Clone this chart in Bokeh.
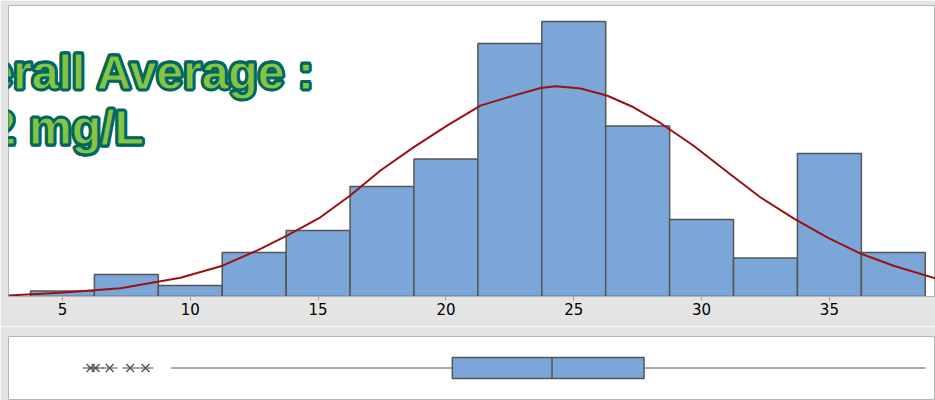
from bokeh.plotting import figure
from bokeh.models import Range1d, FixedTicker, Label
from bokeh.layouts import column
from bokeh.embed import file_html
from bokeh.resources import INLINE

# ---- data ----
bin_left = [3.75, 6.25, 8.75, 11.25, 13.75, 16.25, 18.75, 21.25, 23.75, 26.25, 28.75, 31.25, 33.75, 36.25]
bin_right = [6.25, 8.75, 11.25, 13.75, 16.25, 18.75, 21.25, 23.75, 26.25, 28.75, 31.25, 33.75, 36.25, 38.75]
counts = [1, 4, 2, 8, 12, 20, 25, 46, 50, 31, 14, 7, 26, 8]

curve_x = [2.89, 4.92, 7.27, 9.62, 11.26, 12.63, 13.80, 15.09, 16.27, 17.44, 18.73, 20.06,
           21.35, 22.41, 23.70, 24.29, 25.27, 26.32, 27.34, 28.40, 29.69, 31.02, 32.31,
           33.60, 34.93, 36.22, 37.51, 39.15]
curve_y = [0.2, 0.7, 1.5, 3.4, 5.6, 8.4, 11.1, 14.4, 18.4, 22.9, 27.1, 31.1,
           34.7, 36.2, 37.9, 38.2, 37.8, 36.5, 34.4, 31.5, 27.4, 22.6, 18.0,
           14.2, 10.7, 7.8, 5.6, 3.3]

tick_values = [5, 10, 15, 20, 25, 30, 35]

q1 = 20.25
median = 24.15
q3 = 27.75
whisker_low = 9.25
whisker_high = 38.75
outliers = [6.1, 6.3, 6.85, 7.65, 8.25]

annotation_text = "Overall Average :\n24.2 mg/L"

# ---- styling ----
BG = "#e4e4e4"
BAR = "#7ba7d8"
EDGE = "#555555"
FRAME = "#b4b4b4"
TEAL = "#00665f"
GREEN = "#86c544"

x_range = Range1d(2.89, 39.15)

p = figure(width=935, height=326, x_range=x_range, y_range=Range1d(0, 52.9),
           output_backend="svg", toolbar_location=None,
           min_border_left=8, min_border_right=0, min_border_top=5, min_border_bottom=30)
p.background_fill_color = "white"
p.border_fill_color = BG
p.outline_line_color = FRAME
p.outline_line_width = 1
p.grid.visible = False
p.yaxis.visible = False

p.quad(left=bin_left, right=bin_right, bottom=0, top=counts,
       fill_color=BAR, line_color=EDGE, line_width=1.5)
p.line(curve_x, curve_y, line_color="#9b1010", line_width=2)

ax = p.xaxis[0]
ax.ticker = FixedTicker(ticks=tick_values)
ax.axis_line_color = FRAME
ax.major_tick_line_color = "#a0a0a0"
ax.major_tick_out = 4
ax.major_tick_in = 0
ax.minor_tick_line_color = None
ax.major_label_standoff = 2
ax.major_label_text_font = "DejaVu Sans"
ax.major_label_text_font_size = "15px"
ax.major_label_text_color = "black"

label_kw = dict(x=-0.48, y=45.6, text=annotation_text,
                text_font="Liberation Sans", text_font_style="bold",
                text_font_size="48px", text_baseline="top",
                text_align="left", text_line_height=1.05)
# thick teal halo behind the text
for dx, dy in [(-2, 0), (2, 0), (0, -2), (0, 2), (-1.4, -1.4), (1.4, -1.4), (-1.4, 1.4), (1.4, 1.4)]:
    p.add_layout(Label(x_offset=dx, y_offset=dy, text_color=TEAL,
                       text_outline_color=TEAL, **label_kw))
p.add_layout(Label(text_color=GREEN, text_outline_color=TEAL, **label_kw))

b = figure(width=935, height=74, x_range=x_range, y_range=Range1d(0, 1),
           output_backend="svg", toolbar_location=None,
           min_border_left=8, min_border_right=0, min_border_top=10, min_border_bottom=1)
b.background_fill_color = "white"
b.border_fill_color = BG
b.outline_line_color = FRAME
b.grid.visible = False
b.axis.visible = False

b.segment(x0=[whisker_low, q3], y0=[0.5, 0.5], x1=[q1, whisker_high], y1=[0.5, 0.5],
          line_color=EDGE, line_width=1)
b.quad(left=[q1], right=[q3], bottom=[0.333], top=[0.667],
       fill_color=BAR, line_color=EDGE, line_width=1.5)
b.segment(x0=[median], y0=[0.333], x1=[median], y1=[0.667], line_color=EDGE, line_width=1.5)
b.scatter(outliers, [0.5] * len(outliers), marker="dash", size=16, line_color="#555555", line_width=1.2)
b.scatter(outliers, [0.5] * len(outliers), marker="x", size=11, line_color="#555555", line_width=1.4)

layout = column(p, b, spacing=0)
open("out.html", "w").write(file_html(layout, INLINE))
